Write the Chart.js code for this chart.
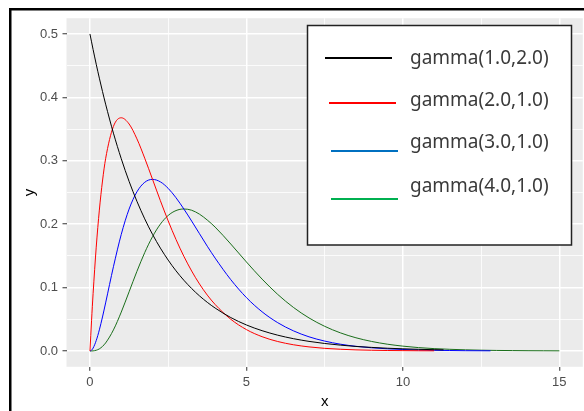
<!DOCTYPE html>
<html><head><meta charset="utf-8">
<script src="https://cdn.jsdelivr.net/npm/chart.js@4/dist/chart.umd.min.js"></script>
<style>html,body{margin:0;padding:0;background:#fff;}#wrap{width:584px;height:411px;position:relative;}</style>
</head><body><div id="wrap"><canvas id="c" width="584" height="411"></canvas></div>
<script>
const seriesNames = ['gamma(1.0,2.0)','gamma(2.0,1.0)','gamma(3.0,1.0)','gamma(4.0,1.0)'];
const lineColors = ['#000000','#FF0000','#0000FF','#1a6e1a'];
const legendColors = ['#000000','#FF0000','#0070C0','#00B050'];

const xBlack = [0,0.05,0.1,0.2,0.3,0.4,0.5,0.75,1,1.25,1.5,1.75,2,2.25,2.5,2.75,3,3.25,3.5,3.75,4,4.5,5,5.5,6,6.5,7,7.5,8,8.5,9,9.5,10,10.5,11,11.3];
const yBlack = [0.5,0.4877,0.4756,0.4524,0.4304,0.4094,0.3894,0.3436,0.3033,0.2676,0.2362,0.2084,0.1839,0.1623,0.1433,0.1264,0.1116,0.0985,0.0869,0.0767,0.0677,0.0527,0.0410,0.0320,0.0249,0.0194,0.0151,0.0118,0.0092,0.0071,0.0056,0.0043,0.0034,0.0026,0.0020,0.0018];

const xRed = [0,0.05,0.1,0.2,0.3,0.4,0.5,0.75,1,1.25,1.5,1.75,2,2.25,2.5,2.75,3,3.25,3.5,3.75,4,4.5,5,5.5,6,6.5,7,7.5,8,8.5,9,9.5,10,10.5,11];
const yRed = [0,0.0476,0.0905,0.1637,0.2222,0.2681,0.3033,0.3543,0.3679,0.3581,0.3347,0.3041,0.2707,0.2371,0.2052,0.1758,0.1494,0.1261,0.1057,0.0881,0.0733,0.0500,0.0337,0.0225,0.0149,0.0098,0.0064,0.0041,0.0027,0.0017,0.0011,0.0007,0.0005,0.0003,0.0002];

const xBlue = [0,0.05,0.1,0.2,0.3,0.4,0.5,0.75,1,1.25,1.5,1.75,2,2.25,2.5,2.75,3,3.25,3.5,3.75,4,4.5,5,5.5,6,6.5,7,7.5,8,8.5,9,9.5,10,10.5,11,11.5,12,12.5,12.8];
const yBlue = [0,0.0012,0.0045,0.0164,0.0333,0.0536,0.0758,0.1329,0.1839,0.2238,0.2510,0.2661,0.2707,0.2668,0.2565,0.2417,0.2240,0.2049,0.1850,0.1652,0.1465,0.1125,0.0842,0.0618,0.0446,0.0318,0.0223,0.0156,0.0107,0.0073,0.0050,0.0034,0.0023,0.0015,0.0010,0.0007,0.0004,0.0003,0.0002];

const xGreen = [0,0.05,0.1,0.2,0.3,0.4,0.5,0.75,1,1.25,1.5,1.75,2,2.25,2.5,2.75,3,3.25,3.5,3.75,4,4.5,5,5.5,6,6.5,7,7.5,8,8.5,9,9.5,10,10.5,11,11.5,12,12.5,13,13.5,14,14.5,15];
const yGreen = [0,0.00002,0.00015,0.0011,0.0033,0.0072,0.0126,0.0332,0.0613,0.0933,0.1255,0.1552,0.1804,0.2001,0.2138,0.2215,0.2240,0.2220,0.2158,0.2065,0.1954,0.1687,0.1404,0.1134,0.0892,0.0688,0.0521,0.0389,0.0286,0.0208,0.0150,0.0107,0.0076,0.0053,0.0037,0.0026,0.0018,0.0012,0.0008,0.0006,0.0004,0.0003,0.0002];

const xTickValues = [0,2.5,5,7.5,10,12.5,15];
const xTickLabels = ['0','','5','','10','','15'];
const yTickValues = [0,0.05,0.1,0.15,0.2,0.25,0.3,0.35,0.4,0.45,0.5];
const yTickLabels = ['0.0','','0.1','','0.2','','0.3','','0.4','','0.5'];
const xTitle = 'x';
const yTitle = 'y';

const seriesX = [xBlack, xRed, xBlue, xGreen];
const seriesY = [yBlack, yRed, yBlue, yGreen];

const datasets = seriesNames.map((n, k) => ({
  label: n,
  data: seriesX[k].map((x, i) => ({x: x, y: seriesY[k][i]})),
  borderColor: lineColors[k],
  borderWidth: 1,
  pointRadius: 0,
  fill: false,
  cubicInterpolationMode: 'monotone'
}));

const isMajorX = v => xTickLabels[xTickValues.indexOf(v)] !== '';
const isMajorY = v => { const i = yTickValues.findIndex(t => Math.abs(t - v) < 1e-9); return i >= 0 && yTickLabels[i] !== ''; };

const panelBg = {
  id: 'panelBg',
  beforeDraw(chart) {
    const {ctx, chartArea: a} = chart;
    ctx.save();
    ctx.fillStyle = '#EBEBEB';
    ctx.fillRect(a.left, a.top, a.right - a.left, a.bottom - a.top);
    ctx.restore();
  }
};

const boxLegend = {
  id: 'boxLegend',
  afterDraw(chart) {
    const ctx = chart.ctx;
    ctx.save();
    ctx.fillStyle = '#FFFFFF';
    ctx.fillRect(307.5, 25.5, 264, 219.5);
    ctx.strokeStyle = '#222222';
    ctx.lineWidth = 1.5;
    ctx.strokeRect(307.5, 25.5, 264, 219.5);
    const lineY = [58, 103, 151, 199];
    const lineX0 = [325, 329, 331, 331];
    const textY = [59, 101, 143, 186.5];
    ctx.lineWidth = 2;
    seriesNames.forEach((n, k) => {
      ctx.strokeStyle = legendColors[k];
      ctx.beginPath();
      ctx.moveTo(lineX0[k], lineY[k]);
      ctx.lineTo(lineX0[k] + 67, lineY[k]);
      ctx.stroke();
      ctx.fillStyle = '#3a3a3a';
      ctx.font = '19px "Noto Sans"';
      ctx.textBaseline = 'middle';
      ctx.textAlign = 'left';
      ctx.fillText(n, 410, textY[k]);
    });
    // outer frame
    ctx.strokeStyle = '#000';
    ctx.lineWidth = 2.5;
    ctx.strokeRect(10.25, 9.25, 800, 800);
    ctx.restore();
  }
};

new Chart(document.getElementById('c'), {
  type: 'line',
  data: { datasets },
  options: {
    responsive: false,
    animation: false,
    layout: { padding: { top: 18.2, right: 1.2, left: 0, bottom: 0 } },
    plugins: { legend: { display: false }, tooltip: { enabled: false } },
    scales: {
      x: {
        type: 'linear',
        min: -0.75, max: 15.75,
        afterBuildTicks: s => { s.ticks = xTickValues.map(v => ({value: v})); },
        afterFit: s => { s.height = 44.2; },
        border: { display: false },
        grid: {
          color: '#FFFFFF',
          lineWidth: c => (c.tick && isMajorX(c.tick.value)) ? 1.5 : 0.8,
          tickColor: c => (c.tick && isMajorX(c.tick.value)) ? '#333333' : 'rgba(0,0,0,0)',
          tickLength: 4,
          tickWidth: 1
        },
        ticks: {
          autoSkip: false, maxRotation: 0,
          padding: 4,
          color: '#4D4D4D',
          font: { family: 'Liberation Sans, Arial', size: 13 },
          callback: (v, i) => xTickLabels[i]
        },
        title: { display: true, text: xTitle, color: '#000', font: { family: 'Liberation Sans, Arial', size: 15 }, padding: { top: 0, bottom: 0 } }
      },
      y: {
        type: 'linear',
        min: -0.025, max: 0.525,
        afterBuildTicks: s => { s.ticks = yTickValues.map(v => ({value: v})); },
        afterFit: s => { s.width = 66.5; },
        border: { display: false },
        grid: {
          color: '#FFFFFF',
          lineWidth: c => (c.tick && isMajorY(c.tick.value)) ? 1.5 : 0.8,
          tickColor: c => (c.tick && isMajorY(c.tick.value)) ? '#333333' : 'rgba(0,0,0,0)',
          tickLength: 4,
          tickWidth: 1
        },
        ticks: {
          autoSkip: false,
          padding: 4.5,
          color: '#4D4D4D',
          font: { family: 'Liberation Sans, Arial', size: 13 },
          callback: (v, i) => yTickLabels[i]
        },
        title: { display: true, text: yTitle, color: '#000', font: { family: 'Liberation Sans, Arial', size: 15 }, padding: { top: 21, bottom: 0 } }
      }
    }
  },
  plugins: [panelBg, boxLegend]
});
</script></body></html>
